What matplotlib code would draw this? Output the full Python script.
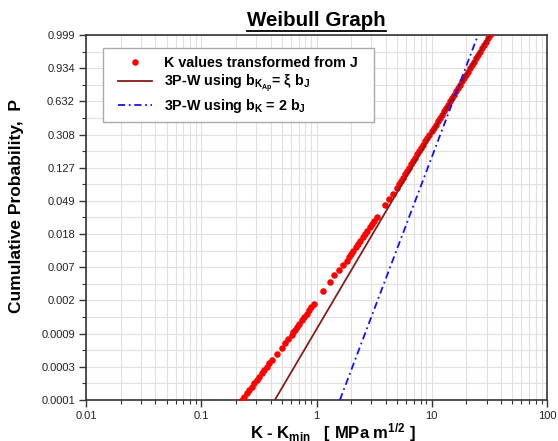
import numpy as np
import matplotlib
matplotlib.use('Agg')
import matplotlib.pyplot as plt
from matplotlib.lines import Line2D
from matplotlib.patches import Rectangle

plt.rcParams['font.family'] = ['Liberation Sans', 'DejaVu Sans']
plt.rcParams['mathtext.fontset'] = 'custom'
plt.rcParams['mathtext.rm'] = 'Liberation Sans:bold'
plt.rcParams['mathtext.it'] = 'Liberation Sans:bold'
plt.rcParams['mathtext.bf'] = 'Liberation Sans:bold'

# ---------------- data ----------------
# K values transformed from J : x = K - Kmin [MPa m^1/2], P = cumulative probability
red_x = [0.224, 0.2355, 0.2474, 0.2602, 0.2734, 0.2873, 0.302, 0.3174, 0.3336, 0.3506,
         0.3684, 0.3873, 0.407,
         0.4508, 0.498, 0.532, 0.568, 0.608, 0.628,
         0.6464, 0.6783, 0.7116, 0.7464, 0.7831, 0.8214, 0.8617, 0.9042, 0.9484,
         1.143, 1.307, 1.424, 1.574, 1.704, 1.824,
         1.909, 2.000, 2.094, 2.193, 2.297, 2.406, 2.519, 2.638, 2.764, 2.893, 3.030,
         3.174, 3.323,
         3.919, 4.271, 4.626,
         4.991, 5.197, 5.413, 5.636, 5.871, 6.114, 6.367, 6.632, 6.907, 7.192,
         7.490, 7.800, 8.123, 8.459, 8.810, 9.174, 9.555, 9.952, 10.36, 10.79,
         11.24, 11.71, 12.19, 12.70, 13.22, 13.77, 14.34, 14.94, 15.55, 16.20,
         16.87, 17.57, 18.30, 19.05, 19.84, 20.67, 21.52, 22.41, 23.34, 24.30,
         25.32, 26.36, 27.45, 28.60, 29.78, 31.01, 32.30]
red_p = [1.234e-4, 1.364e-4, 1.507e-4, 1.666e-4, 1.841e-4, 2.035e-4, 2.249e-4, 2.485e-4,
         2.747e-4, 3.035e-4, 3.355e-4, 3.707e-4, 4.097e-4,
         4.94e-4, 5.86e-4, 6.94e-4, 7.69e-4, 8.76e-4, 9.68e-4,
         1.008e-3, 1.114e-3, 1.231e-3, 1.360e-3, 1.503e-3, 1.662e-3, 1.836e-3, 2.029e-3,
         2.243e-3,
         3.296e-3, 4.28e-3, 5.34e-3, 6.20e-3, 7.12e-3, 8.11e-3,
         9.06e-3, 1.000e-2, 1.105e-2, 1.220e-2, 1.348e-2, 1.489e-2, 1.643e-2, 1.815e-2,
         2.004e-2, 2.212e-2, 2.442e-2, 2.695e-2, 2.975e-2,
         0.04308, 0.05095, 0.05951,
         0.07158, 0.07880, 0.08672, 0.09542, 0.1049, 0.1153, 0.1266, 0.1389, 0.1524, 0.1670,
         0.1828, 0.2000, 0.2186, 0.2385, 0.2601, 0.2831, 0.3078, 0.3341, 0.3619, 0.3914,
         0.4224, 0.4548, 0.4885, 0.5233, 0.5590, 0.5954, 0.6321, 0.6689, 0.7052, 0.7407,
         0.7751, 0.8077, 0.8383, 0.8665, 0.8920, 0.9145, 0.9340, 0.9504, 0.9638, 0.9745,
         0.9827, 0.9887, 0.9929, 0.9958, 0.99764, 0.99875, 0.99938]

# 3P-W fit using b_K,Ap = xi b_J (straight on Weibull paper -> two end points)
brown_x = [0.435, 31.9]
brown_p = [1.234e-4, 0.99938]
# 3P-W fit using b_K = 2 b_J
blue_x = [1.596, 25.2]
blue_p = [1.234e-4, 0.99938]

y_tick_labels = ["0.0001", "0.0003", "0.0009", "0.002", "0.007", "0.018",
                 "0.049", "0.127", "0.308", "0.632", "0.934", "0.999"]
x_tick_vals = [0.01, 0.1, 1, 10, 100]
x_tick_labels = ["0.01", "0.1", "1", "10", "100"]

labels = ["K values transformed from J",
          r"3P-W using b$_{K_{Ap}}$= ξ b$_{J}$",
          r"3P-W using b$_{K}$ = 2 b$_{J}$"]

# ---------------- Weibull probability scale ----------------
def wb_fwd(p):
    p = np.clip(np.asarray(p, dtype=float), 1e-300, 1 - 1e-16)
    return np.log(-np.log1p(-p))

def wb_inv(z):
    return -np.expm1(-np.exp(np.asarray(z, dtype=float)))

W, H = 558, 441
AX_L, AX_T, AX_W, AX_H = 86, 35, 461, 365
fig = plt.figure(figsize=(W / 100, H / 100), dpi=100)
ax = fig.add_axes([AX_L / W, (H - AX_T - AX_H) / H, AX_W / W, AX_H / H])

def axfrac(px, py):
    return (px - AX_L) / AX_W, (AX_T + AX_H - py) / AX_H

ax.set_xscale('log')
ax.set_yscale('function', functions=(wb_fwd, wb_inv))

z_major = np.arange(-9, 3)
ax.set_xlim(0.01, 100)
ax.set_ylim(wb_inv(-9), wb_inv(2))
ax.set_xticks(x_tick_vals, x_tick_labels)
ax.set_yticks(wb_inv(z_major), y_tick_labels)
ax.set_yticks(wb_inv(np.arange(-8.5, 2.0, 1.0)), minor=True)
ax.xaxis.set_minor_formatter(matplotlib.ticker.NullFormatter())

ax.set_axisbelow(True)
ax.grid(which='both', color='#e0e0e0', lw=0.8)

ax.plot(red_x, red_p, 'o', color='#ff0000', ms=4.7, mec='none', label=labels[0], zorder=3)
ax.plot(brown_x, brown_p, color='#8b1a1a', lw=1.3, label=labels[1], zorder=4)
ax.plot(blue_x, blue_p, color='#1010ff', lw=1.3, ls=(0, (4, 2, 1, 2)), label=labels[2], zorder=4)

for s in ax.spines.values():
    s.set_color('#333333')
    s.set_linewidth(1.2)
ax.tick_params(which='major', direction='out', length=5, width=1, labelsize=8,
               color='#333333', labelcolor='#222222', pad=3)
ax.tick_params(which='minor', direction='out', length=3, width=0.8, color='#333333')

# legend frame (drawn separately so the horizontal padding can differ from the vertical)
x0, y0 = axfrac(103, 122)
x1, y1 = axfrac(374, 48)
ax.add_patch(Rectangle((x0, y0), x1 - x0, y1 - y0, transform=ax.transAxes,
                       facecolor='white', edgecolor='#aaaaaa', lw=1.0, zorder=4.9))
leg = ax.legend(loc='upper left', bbox_to_anchor=axfrac(118, 56), numpoints=1,
                prop={'weight': 'bold', 'size': 10.3}, handlelength=2.4, labelspacing=0.2,
                borderpad=0, borderaxespad=0, handletextpad=0.85, frameon=False)
leg.set_zorder(5)

fig.text(17 / W, 1 - 206 / H, 'Cumulative Probability,  P', rotation=90, ha='center',
         va='center', fontsize=12.5, weight='bold')
fig.text(333 / W, 1 - 438 / H, r'K - K$_{min}$   [ MPa m$^{1/2}$ ]', ha='center',
         va='baseline', fontsize=12, weight='bold')
title = fig.text(316.5 / W, 1 - 26 / H, 'Weibull Graph', ha='center', va='baseline',
                 fontsize=14.8, weight='bold')

fig.canvas.draw()
bb = title.get_window_extent()
uy = 1 - 30.5 / H
fig.add_artist(Line2D([bb.x0 / W, bb.x1 / W], [uy, uy], color='black', lw=1.3,
                      transform=fig.transFigure))

fig.savefig('out.png', dpi=100)
